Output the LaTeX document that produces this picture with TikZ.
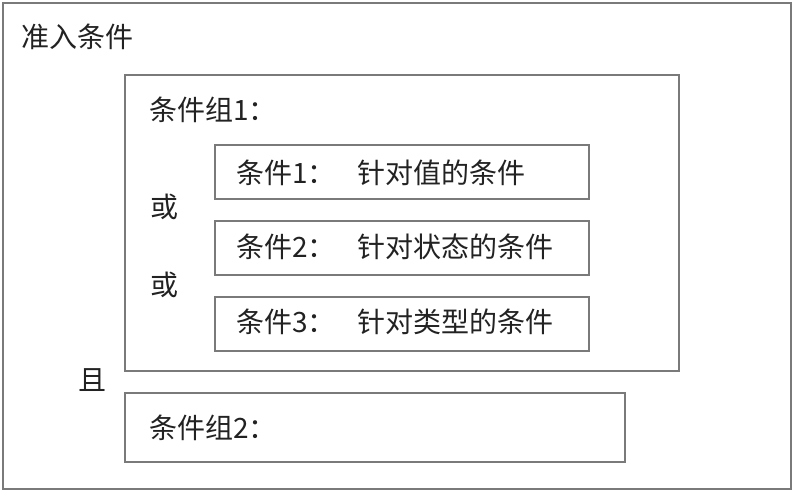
\documentclass[tikz,border=0pt]{standalone}
\usepackage{fontspec}
\newfontfamily\cjk{Noto Sans CJK SC}
\definecolor{bordergray}{HTML}{7A7A7A}
\definecolor{txt}{HTML}{222222}
\tikzset{
  box/.style={draw=bordergray, line width=1.6pt, fill=none, inner sep=0pt},
  lbl/.style={text=txt, inner sep=0pt, anchor=west, font=\cjk\fontsize{28}{32}\selectfont},
}
\begin{document}
\begin{tikzpicture}[x=1pt,y=-1pt]
\useasboundingbox (0,0) rectangle (794,492);
\fill[white] (0,0) rectangle (794,492);
\node[box, minimum width=788pt, minimum height=486pt] (outer) at (397,246) {};
\node[box, minimum width=554pt, minimum height=296pt] (g1) at (402,223) {};
\node[box, minimum width=374pt, minimum height=54pt] (c1) at (402,172) {};
\node[box, minimum width=374pt, minimum height=54pt] (c2) at (402,248) {};
\node[box, minimum width=374pt, minimum height=54pt] (c3) at (402,324) {};
\node[box, minimum width=500pt, minimum height=69pt] (g2) at (375,427.5) {};
\node[lbl] (title) at (21,37) {准入条件};
\node[lbl] (g1t) at (149,110) {条件组1：};
\node[lbl] (c1t) at (236,173) {\makebox[121pt][l]{条件1：}针对值的条件};
\node[lbl] (c2t) at (236,247) {\makebox[121pt][l]{条件2：}针对状态的条件};
\node[lbl] (c3t) at (236,322) {\makebox[121pt][l]{条件3：}针对类型的条件};
\node[lbl] (or1) at (150,207) {或};
\node[lbl] (or2) at (150,285) {或};
\node[lbl] (and) at (78,380) {且};
\node[lbl] (g2t) at (149,428) {条件组2：};
\end{tikzpicture}
\end{document}
